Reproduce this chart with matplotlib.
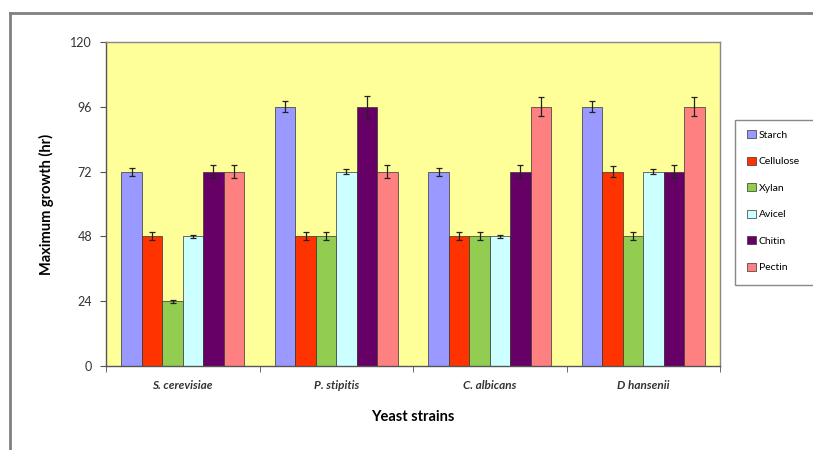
import matplotlib
matplotlib.use("Agg")
import matplotlib.pyplot as plt
import numpy as np
from matplotlib.lines import Line2D
from matplotlib.patches import Patch, Rectangle

strains = ["S. cerevisiae", "P. stipitis", "C. albicans", "D hansenii"]
substrates = ["Starch", "Cellulose", "Xylan", "Avicel", "Chitin", "Pectin"]
values = {
    "Starch":    [72, 96, 72, 96],
    "Cellulose": [48, 48, 48, 72],
    "Xylan":     [24, 48, 48, 48],
    "Avicel":    [48, 72, 48, 72],
    "Chitin":    [72, 96, 72, 72],
    "Pectin":    [72, 72, 96, 96],
}
errors = {
    "Starch":    [1.5, 2.0, 1.5, 2.0],
    "Cellulose": [1.5, 1.5, 1.5, 2.0],
    "Xylan":     [0.5, 1.5, 1.5, 1.5],
    "Avicel":    [0.5, 1.0, 0.5, 1.0],
    "Chitin":    [2.5, 4.0, 2.5, 2.5],
    "Pectin":    [2.5, 2.5, 3.5, 3.5],
}
colors = ["#9999FF", "#FF3300", "#92CC50", "#CCFFFF", "#660066", "#FF8080"]
yticks = [0, 24, 48, 72, 96, 120]

plt.rcParams['font.family'] = ['Lato', 'DejaVu Sans']
fig = plt.figure(figsize=(8.13, 4.5), dpi=100)
ax = fig.add_axes([106/813, 1-366/450, (720-106)/813, (366-42)/450])
ax.set_facecolor("#FFFF99")

n = len(substrates)
group_w = 0.8
bw = group_w / n
x = np.arange(len(strains))
for i, s in enumerate(substrates):
    pos = x - group_w/2 + bw*(i+0.5)
    ax.bar(pos, values[s], bw, color=colors[i], edgecolor="#333333", linewidth=0.5,
           yerr=errors[s], error_kw=dict(ecolor="#222222", elinewidth=0.9, capsize=2.5, capthick=0.9),
           label=s, zorder=2)

ax.set_xlim(-0.5, len(strains)-0.5)
ax.set_ylim(0, 120)
ax.set_yticks(yticks)
ax.set_yticklabels([str(t) for t in yticks], fontsize=9, color="#333333")
ax.set_xticks(x)
ax.set_xticklabels(strains, fontsize=8.5, fontweight='bold', fontstyle='italic', color="#333333")
ax.tick_params(axis='x', length=0, pad=10)
ax.set_xticks(np.arange(-0.5, len(strains)), minor=True)
ax.tick_params(axis='x', which='minor', length=4, direction='out', color="#555555")
ax.tick_params(axis='y', length=4, direction='out', color="#555555", pad=6)
for sp in ["left", "bottom"]:
    ax.spines[sp].set_color("#555555")
    ax.spines[sp].set_linewidth(1.0)
for sp in ["top", "right"]:
    ax.spines[sp].set_color("#888888")
    ax.spines[sp].set_linewidth(1.0)

ax.set_ylabel("Maximum growth (hr)", fontsize=10.5, fontweight='bold', labelpad=12)
ax.set_xlabel("Yeast strains", fontsize=10.5, fontweight='bold', labelpad=14)

# legend box (extends past right edge as in reference)
fig.add_artist(Rectangle((735/813, 1-285/450), 100/813, 165/450, transform=fig.transFigure,
                         facecolor="white", edgecolor="#888888", linewidth=1.0, zorder=1))
handles = [Patch(facecolor=c, edgecolor="#333333", linewidth=0.5) for c in colors]
leg = fig.legend(handles, substrates, loc='upper left', bbox_to_anchor=(738/813, 1-121/450),
                 fontsize=7.5, frameon=False, handlelength=0.8, handleheight=0.8,
                 handletextpad=0.3, labelspacing=1.62, borderpad=0.9, borderaxespad=0)
leg.set_zorder(2)

# outer chart border (top and left)
fig.add_artist(Line2D([10/813, 1], [1-13/450, 1-13/450], color="#808080", linewidth=2, transform=fig.transFigure))
fig.add_artist(Line2D([10/813, 10/813], [0, 1-13/450], color="#808080", linewidth=2, transform=fig.transFigure))

fig.savefig("out.png", dpi=100)
